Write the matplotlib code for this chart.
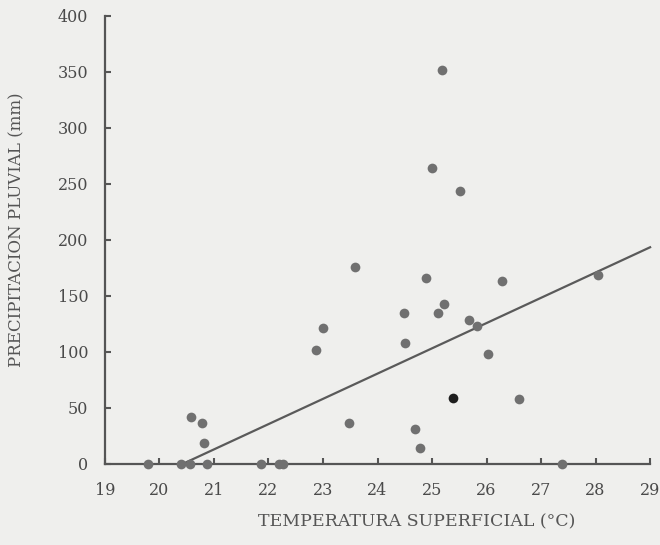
import matplotlib.pyplot as plt
import numpy as np

# Temperatura superficial (°C) vs precipitacion pluvial (mm)
temp = [19.79, 20.39, 20.56, 20.87, 21.86, 22.19, 22.27, 27.39,
        20.58, 20.78, 20.82, 23.48,
        25.18, 25.00, 25.51, 23.59, 24.89, 26.28, 28.05,
        25.22, 24.49, 25.11, 23.00, 25.68, 25.83, 22.87,
        24.50, 26.03, 26.60, 24.69, 24.78]
precip = [0, 0, 0, 0, 0, 0, 0, 0,
          42, 36, 19, 36,
          352, 264, 244, 176, 166, 163, 169,
          143, 135, 135, 121, 128, 123, 102,
          108, 98, 58, 31, 14]
# one point printed darker in the original
dark_temp = [25.39]
dark_precip = [59]

# regression line
fit_slope = 22.56
fit_intercept = -460.9
fit_range = [20.43, 29.0]

x_ticks = list(range(19, 30))
y_ticks = list(range(0, 401, 50))

fig = plt.figure(figsize=(6.6, 5.45), dpi=100)
fig.patch.set_facecolor('#efefed')
ax = fig.add_axes([0.159, 0.149, 0.826, 0.822])
ax.set_facecolor('#efefed')

fx = np.array(fit_range)
ax.plot(fx, fit_slope * fx + fit_intercept, color='#5a5a5a', lw=1.6, clip_on=False)
ax.plot(temp, precip, 'o', color='#707070', ms=7, mec='none', clip_on=False, zorder=3)
ax.plot(dark_temp, dark_precip, 'o', color='#1e1e1e', ms=7, mec='none', clip_on=False, zorder=3)

ax.set_xlim(19, 29)
ax.set_ylim(0, 400)
ax.set_xticks(x_ticks)
ax.set_yticks(y_ticks)

for s in ['top', 'right']:
    ax.spines[s].set_visible(False)
for s in ['left', 'bottom']:
    ax.spines[s].set_color('#555555')
    ax.spines[s].set_linewidth(1.6)

font = 'DejaVu Serif'
ax.tick_params(direction='in', length=4, width=1.5, color='#555555',
               labelcolor='#4a4a4a', labelsize=11.5)
ax.tick_params(axis='x', pad=13)
ax.tick_params(axis='y', pad=12)
for lab in ax.get_xticklabels() + ax.get_yticklabels():
    lab.set_family(font)

ax.set_xlabel('TEMPERATURA SUPERFICIAL (°C)', family=font, fontsize=12.5,
              color='#555555', va='center')
ax.xaxis.set_label_coords(0.571, -0.129)
ax.set_ylabel('PRECIPITACION PLUVIAL (mm)', family=font, fontsize=12,
              color='#555555', va='center')
ax.yaxis.set_label_coords(-0.161, 0.522)

fig.savefig('out.png', dpi=100, facecolor=fig.get_facecolor())
